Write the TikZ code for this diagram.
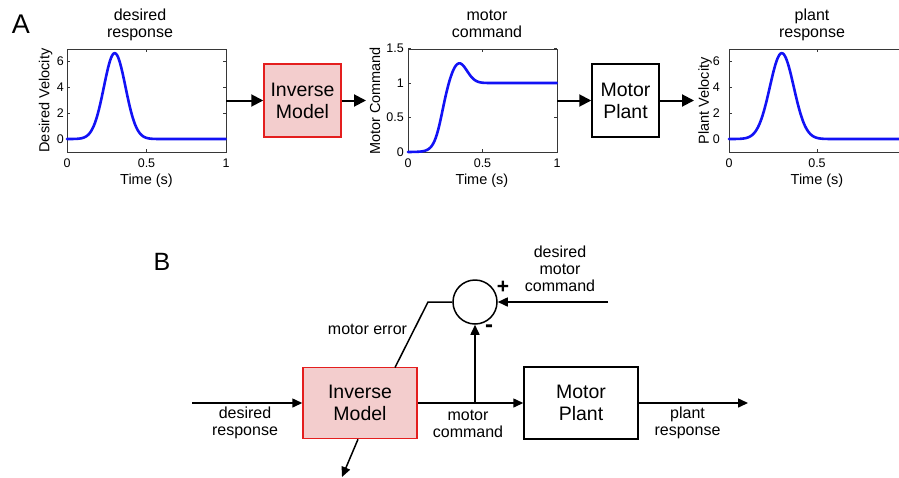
\documentclass[tikz,border=0pt]{standalone}
\usepackage{fontspec}
\setmainfont{Liberation Sans}
\usetikzlibrary{arrows.meta,positioning}
\definecolor{invpink}{RGB}{243,205,205}
\definecolor{invred}{RGB}{228,30,30}
\definecolor{curveblue}{RGB}{18,18,245}
\definecolor{axgray}{RGB}{55,55,55}

\tikzset{
  axbox/.style={draw=axgray, line width=0.8pt, inner sep=0pt},
  axtick/.style={axgray, line width=0.6pt},
  ticklab/.style={font=\fontsize{12.5}{13}\selectfont, inner sep=1pt},
  axlab/.style={font=\fontsize{14.5}{16}\selectfont, inner sep=0pt},
  ttl/.style={font=\fontsize{16}{17}\selectfont, align=center, inner sep=0pt},
  sig/.style={font=\fontsize{16}{17}\selectfont, align=center, inner sep=0pt},
  curve/.style={curveblue, line width=2.6pt, line join=round, line cap=round},
  invbox/.style={draw=invred, fill=invpink, line width=1.5pt, inner sep=0pt,
    align=center, font=\fontsize{19.5}{22}\selectfont},
  plantbox/.style={draw=black, line width=1.5pt, inner sep=0pt,
    align=center, font=\fontsize{19.5}{22}\selectfont},
  sumnode/.style={circle, draw=black, line width=1.5pt, minimum size=44pt, inner sep=0pt},
  bigarrow/.style={line width=2pt, -{Triangle[length=12pt,width=12pt]}},
  arrowB/.style={line width=1.5pt, -{Triangle[length=10pt,width=9pt]}},
}

\begin{document}
\begin{tikzpicture}[x=1pt, y=-1pt,
  declare function={
    vel(\t)=6.6*exp(-(\t-0.3)*(\t-0.3)/(2*0.068*0.068));
    cmd(\t)=1/(1+exp(-(\t-0.225)/0.028)) + 0.3*exp(-(\t-0.34)*(\t-0.34)/(2*0.055*0.055));
  }]
  \useasboundingbox (0,0) rectangle (899,477);

  % ========== PANEL A : FEEDFORWARD CHAIN ==========
  \node[font=\fontsize{27}{27}\selectfont, inner sep=0pt] (labA) at (21,24) {A};

  % Plot 1 : desired response
  \node[axbox, minimum width=159, minimum height=103] (ax1) at (146.5,100.5) {};
  \foreach \v/\py in {0/139,2/113,4/87,6/61}{
    \draw[axtick] (67,\py) -- ++(3,0) (226,\py) -- ++(-3,0);
    \node[ticklab, anchor=east] at (65,\py) {\v};
  }
  \foreach \t/\px in {0/67,0.5/146.5,1/226}{
    \draw[axtick] (\px,152) -- ++(0,-3) (\px,49) -- ++(0,3);
    \node[ticklab, anchor=base] at (\px,167) {\t};
  }
  \draw[curve] plot[domain=0:1, samples=160] ({67+159*\x},{139-13*vel(\x)});
  \node[axlab, anchor=base] at (146.5,184) {Time (s)};
  \node[axlab, rotate=90] at (45.5,100.5) {Desired Velocity};
  \node[ttl] (ttl1) at (140,25) {desired\\response};

  % Inverse model
  \node[invbox, minimum width=77, minimum height=73] (invA) at (302.5,100.5) {Inverse\\Model};

  % Plot 2 : motor command
  \node[axbox, minimum width=149, minimum height=103] (ax2) at (482.5,100.5) {};
  \foreach \v/\py in {0/152,0.5/117.5,1/83,1.5/48.5}{
    \draw[axtick] (408,\py) -- ++(3,0) (557,\py) -- ++(-3,0);
    \node[ticklab, anchor=east] at (405,\py) {\v};
  }
  \foreach \t/\px in {0/408,0.5/482.5,1/557}{
    \draw[axtick] (\px,152) -- ++(0,-3) (\px,49) -- ++(0,3);
    \node[ticklab, anchor=base] at (\px,167) {\t};
  }
  \draw[curve] plot[domain=0:1, samples=160] ({408+149*\x},{152-69*cmd(\x)});
  \node[axlab, anchor=base] at (482,184) {Time (s)};
  \node[axlab, rotate=90] at (375,101) {Motor Command};
  \node[ttl] (ttl2) at (487,24) {motor\\command};

  % Motor plant
  \node[plantbox, minimum width=67, minimum height=73] (plA) at (625.5,100.5) {Motor\\Plant};

  % Plot 3 : plant response (cut at right edge)
  \node[axbox, minimum width=176, minimum height=103] (ax3) at (817,100.5) {};
  \foreach \v/\py in {0/139,2/113,4/87,6/61}{
    \draw[axtick] (729,\py) -- ++(3,0);
    \node[ticklab, anchor=east] at (721,\py) {\v};
  }
  \foreach \t/\px in {0/729,0.5/817}{
    \draw[axtick] (\px,152) -- ++(0,-3) (\px,49) -- ++(0,3);
    \node[ticklab, anchor=base] at (\px,167) {\t};
  }
  \draw[curve] plot[domain=0:0.97, samples=160] ({729+176*\x},{139-13*vel(\x)});
  \node[axlab, anchor=base] at (817,184) {Time (s)};
  \node[axlab, rotate=90] at (705,101) {Plant Velocity};
  \node[ttl] (ttl3) at (812,25) {plant\\response};

  % Arrows
  \coordinate (in2) at (366,100.5);
  \coordinate (in3) at (694,100.5);
  \draw[bigarrow] (ax1.east) -- (invA.west);
  \draw[bigarrow] (invA.east) -- (in2);
  \draw[bigarrow] (ax2.east) -- (plA.west);
  \draw[bigarrow] (plA.east) -- (in3);

  % ========== PANEL B : FEEDBACK ERROR LEARNING ==========
  \node[font=\fontsize{25}{25}\selectfont, inner sep=0pt] (labB) at (162,262) {B};

  \node[invbox, minimum width=114, minimum height=71] (invB) at (360,403) {Inverse\\Model};
  \node[plantbox, minimum width=114, minimum height=72] (plB) at (581,403) {Motor\\Plant};
  \node[sumnode] (sum) at (475,302) {};
  \node[font=\fontsize{21}{21}\selectfont\bfseries, inner sep=0pt] (plus) at (503,287) {+};
  \node[font=\fontsize{24}{24}\selectfont\bfseries, inner sep=0pt] (minus) at (489,329) {-};

  \coordinate (din) at (192,403);
  \coordinate (br) at (invB.east -| sum.south);
  \coordinate (dmc) at (608,302);
  \coordinate (kink) at (428,302);
  \coordinate (errin) at (395,367.5);
  \coordinate (mout) at (342,477);
  \coordinate (pout) at (748,403);

  \draw[arrowB] (din) -- (invB.west);
  \draw[arrowB] (invB.east) -- (plB.west);
  \draw[arrowB] (br) -- (sum.south);
  \draw[arrowB] (dmc) -- (sum.east);
  \draw[line width=1.5pt] (sum.west) -- (kink) -- (errin);
  \draw[arrowB] ([xshift=-2pt]invB.south) -- (mout);
  \draw[arrowB] (plB.east) -- (pout);

  % Labels
  \node[sig] at (245,423) {desired\\response};
  \node[sig] at (468,423.5) {motor\\command};
  \node[sig] at (687.5,422.5) {plant\\response};
  \node[sig] at (560,269) {desired\\motor\\command};
  \node[sig] at (367.5,329) {motor error};

\end{tikzpicture}
\end{document}
